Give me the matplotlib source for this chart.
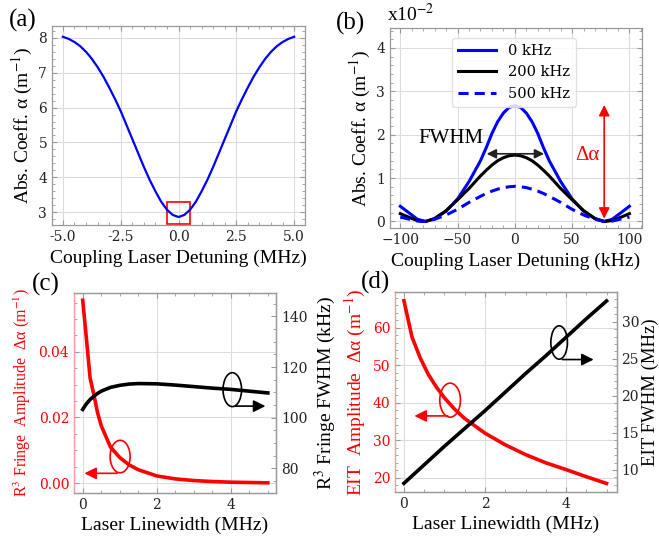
import matplotlib
matplotlib.use('Agg')
import matplotlib.pyplot as plt
from matplotlib.patches import Ellipse, Rectangle
from matplotlib.ticker import AutoMinorLocator, MultipleLocator, FormatStrFormatter

plt.rcParams['font.family'] = 'DejaVu Serif'
plt.rcParams['mathtext.fontset'] = 'stix'

# (a) broad absorption with the small EIT dip
det_mhz = [-5, -4.75, -4.5, -4.25, -4, -3.75, -3.5, -3.25, -3, -2.75, -2.5, -2.25, -2,
           -1.75, -1.5, -1.25, -1, -0.75, -0.5, -0.25, 0,
           0.25, 0.5, 0.75, 1, 1.25, 1.5, 1.75, 2, 2.25, 2.5, 2.75, 3, 3.25, 3.5,
           3.75, 4, 4.25, 4.5, 4.75, 5]
abs_a = [8.03, 7.97, 7.88, 7.76, 7.60, 7.40, 7.16, 6.89, 6.58, 6.25, 5.90, 5.50, 5.10,
         4.70, 4.30, 3.93, 3.60, 3.30, 3.07, 2.92, 2.86,
         2.92, 3.07, 3.30, 3.60, 3.93, 4.30, 4.70, 5.10, 5.50, 5.90, 6.25, 6.58, 6.89, 7.16,
         7.40, 7.60, 7.76, 7.88, 7.97, 8.03]

# (b) R3 fringe for three laser linewidths (x10^-2)
det_khz = [-100, -90, -85, -78, -70, -60, -50, -40, -30, -25, -20, -15, -10, -5, 0,
           5, 10, 15, 20, 25, 30, 40, 50, 60, 70, 78, 85, 90, 100]
fringe_0 = [0.35, 0.15, 0.05, 0.0, 0.06, 0.24, 0.52, 0.92, 1.40, 1.70, 2.03, 2.30, 2.50, 2.63, 2.67,
            2.63, 2.50, 2.30, 2.03, 1.70, 1.40, 0.92, 0.52, 0.24, 0.06, 0.0, 0.05, 0.15, 0.35]
fringe_200 = [0.18, 0.07, 0.02, 0.0, 0.07, 0.25, 0.50, 0.76, 1.05, 1.18, 1.30, 1.40, 1.47, 1.515, 1.53,
              1.515, 1.47, 1.40, 1.30, 1.18, 1.05, 0.76, 0.50, 0.25, 0.07, 0.0, 0.02, 0.07, 0.18]
fringe_500 = [0.10, 0.04, 0.01, 0.0, 0.05, 0.15, 0.28, 0.44, 0.58, 0.645, 0.70, 0.745, 0.78, 0.80, 0.81,
              0.80, 0.78, 0.745, 0.70, 0.645, 0.58, 0.44, 0.28, 0.15, 0.05, 0.0, 0.01, 0.04, 0.10]
legend_labels = ['0 kHz', '200 kHz', '500 kHz']

# (c) R3 fringe amplitude / FWHM vs linewidth
lw_c = [0, 0.1, 0.2, 0.3, 0.4, 0.5, 0.75, 1, 1.25, 1.5, 2, 2.5, 3, 3.5, 4, 4.5, 5]
amp_c = [0.0557, 0.044, 0.032, 0.027, 0.0215, 0.0175, 0.011, 0.0078, 0.0056, 0.0041,
         0.0022, 0.0013, 0.0008, 0.0005, 0.0003, 0.0002, 0.0001]
fwhm_c = [103.3, 105.5, 107.2, 108.5, 109.6, 110.5, 112.0, 112.8, 113.3, 113.5,
          113.4, 112.9, 112.3, 111.7, 111.2, 110.5, 109.8]

# (d) EIT amplitude / FWHM vs linewidth
lw_d = [0, 0.2, 0.4, 0.6, 0.8, 1, 1.25, 1.5, 2, 2.5, 3, 3.5, 4, 4.5, 5]
amp_d = [67.2, 57.5, 52.0, 47.6, 44.2, 41.3, 38.3, 35.8, 31.9, 28.8, 26.2, 24.0, 22.2, 20.3, 18.5]
fwhm_d = [8.2, 9.2, 10.2, 11.2, 12.2, 13.2, 14.4, 15.6, 18.0, 20.5, 23.0, 25.4, 27.9, 30.4, 32.8]

LF = 'Liberation Serif'
SPINE = '#9a9a9a'
RED = '#ff0000'


def style(ax, top=True, right=True):
    for s in ax.spines.values():
        s.set_color(SPINE)
        s.set_linewidth(0.9)
    ax.tick_params(which='both', direction='in', color=SPINE, labelsize=10,
                   labelcolor='#222222', top=top, right=right)
    ax.tick_params(which='major', length=3.5)
    ax.tick_params(which='minor', length=2)
    ax.grid(True, color='#dcdcdc', lw=0.8)
    ax.set_axisbelow(True)


fig = plt.figure(figsize=(6.59, 5.41), dpi=100)

# ---- (a)
ax = fig.add_axes([0.0789, 0.584, 0.384, 0.368])
ax.plot(det_mhz, abs_a, color='#0000ff', lw=1.6)
ax.add_patch(Rectangle((-0.5, 2.67), 1.0, 0.61, fill=False, ec=RED, lw=1.2))
ax.set_xlim(-5.47, 5.47)
ax.set_ylim(2.63, 8.34)
ax.xaxis.set_major_locator(MultipleLocator(2.5))
ax.xaxis.set_minor_locator(AutoMinorLocator(5))
ax.yaxis.set_minor_locator(AutoMinorLocator(5))
ax.xaxis.set_major_formatter(FormatStrFormatter('%.1f'))
style(ax)
ax.set_xlabel('Coupling Laser Detuning (MHz)', fontfamily=LF, fontsize=14, labelpad=4)
ax.set_ylabel('Abs. Coeff. α (m$^{-1}$)', fontfamily=LF, fontsize=14, labelpad=2)

# ---- (b)
ax = fig.add_axes([0.5918, 0.5786, 0.3824, 0.3697])
ax.plot(det_khz, fringe_0, color='#0000ff', lw=2.2, label=legend_labels[0])
ax.plot(det_khz, fringe_200, color='black', lw=2.2, label=legend_labels[1])
ax.plot(det_khz, fringe_500, color='#0000ff', lw=2.2, ls=(0, (3.3, 2)), label=legend_labels[2])
ax.set_xlim(-109, 111)
ax.set_ylim(-0.15, 4.46)
ax.xaxis.set_major_locator(MultipleLocator(50))
ax.xaxis.set_minor_locator(AutoMinorLocator(5))
ax.yaxis.set_major_locator(MultipleLocator(1))
ax.yaxis.set_minor_locator(AutoMinorLocator(5))
style(ax)
ax.set_xlabel('Coupling Laser Detuning (kHz)', fontfamily=LF, fontsize=14, labelpad=4)
ax.set_ylabel('Abs. Coeff. α (m$^{-1}$)', fontfamily=LF, fontsize=14, labelpad=2)
leg = ax.legend(loc='upper center', bbox_to_anchor=(0.492, 0.985), fontsize=10.5,
                handlelength=2.6, framealpha=0.85, edgecolor='#dddddd')
ax.annotate('', xy=(-27, 1.56), xytext=(28, 1.56),
            arrowprops=dict(arrowstyle='<|-|>', color='#222222', lw=1.2, mutation_scale=14))
ax.text(-56, 1.92, 'FWHM', fontfamily=LF, fontsize=15, ha='center', va='center')
ax.annotate('', xy=(78, 0.0), xytext=(78, 2.75),
            arrowprops=dict(arrowstyle='<|-|>', color=RED, lw=1.2, mutation_scale=16))
ax.text(63, 1.51, 'Δα', fontfamily=LF, fontsize=15, color=RED, ha='center', va='center')

# ---- (c)
ax = fig.add_axes([0.1123, 0.0893, 0.3065, 0.3697])
ax2 = ax.twinx()
ax.plot(lw_c, amp_c, color=RED, lw=2.6)
ax2.plot(lw_c, fwhm_c, color='black', lw=2.6)
ax.set_xlim(-0.235, 5.22)
ax.set_ylim(-0.0029, 0.058)
ax2.set_ylim(70.4, 149.4)
ax.xaxis.set_major_locator(MultipleLocator(2))
ax.xaxis.set_minor_locator(AutoMinorLocator(4))
ax.yaxis.set_major_locator(MultipleLocator(0.02))
ax.yaxis.set_minor_locator(AutoMinorLocator(4))
ax.yaxis.set_major_formatter(FormatStrFormatter('%.2f'))
ax2.yaxis.set_major_locator(MultipleLocator(20))
ax2.yaxis.set_minor_locator(AutoMinorLocator(4))
style(ax, right=False)
style(ax2, top=False)
ax2.grid(False)
ax.tick_params(axis='y', labelcolor=RED)
ax.spines['left'].set_color('#f4a0a0')
ax2.spines['left'].set_color('#f4a0a0')
ax.set_xlabel('Laser Linewidth (MHz)', fontfamily=LF, fontsize=14, labelpad=4)
ax.set_ylabel('R$^3$ Fringe  Amplitude  Δα (m$^{-1}$)', fontfamily=LF, fontsize=11.5,
              color=RED, labelpad=4)
ax2.set_ylabel('R$^3$ Fringe FWHM (kHz)', fontfamily=LF, fontsize=14, labelpad=4)
ax.add_patch(Ellipse((1.01, 0.0081), 0.54, 0.0099, fill=False, ec=RED, lw=1.2))
ax.annotate('', xy=(-0.03, 0.003), xytext=(1.0, 0.003),
            arrowprops=dict(arrowstyle='-|>', color=RED, lw=1.2, mutation_scale=18))
ax2.add_patch(Ellipse((4.04, 111.1), 0.5, 13.4, fill=False, ec='black', lw=1.2))
ax2.annotate('', xy=(5.01, 104.6), xytext=(4.05, 104.6),
             arrowprops=dict(arrowstyle='-|>', color='black', lw=1.2, mutation_scale=18))

# ---- (d)
ax = fig.add_axes([0.5994, 0.0911, 0.3364, 0.3697])
ax2 = ax.twinx()
ax.plot(lw_d, amp_d, color=RED, lw=2.6)
ax2.plot(lw_d, fwhm_d, color='black', lw=2.6)
ax.set_xlim(-0.22, 5.25)
ax.set_ylim(16.3, 69.6)
ax2.set_ylim(7.07, 34.05)
ax.xaxis.set_major_locator(MultipleLocator(2))
ax.xaxis.set_minor_locator(AutoMinorLocator(4))
ax.yaxis.set_major_locator(MultipleLocator(10))
ax.yaxis.set_minor_locator(AutoMinorLocator(5))
ax2.yaxis.set_major_locator(MultipleLocator(5))
ax2.yaxis.set_minor_locator(AutoMinorLocator(5))
style(ax, right=False)
style(ax2, top=False)
ax2.grid(False)
ax.tick_params(axis='y', labelcolor=RED)
ax.spines['left'].set_color('#f4a0a0')
ax2.spines['left'].set_color('#f4a0a0')
ax.set_xlabel('Laser Linewidth (MHz)', fontfamily=LF, fontsize=14, labelpad=4)
ax.set_ylabel('EIT  Amplitude  Δα (m$^{-1}$)', fontfamily=LF, fontsize=14,
              color=RED, labelpad=3)
ax2.set_ylabel('EIT FWHM (MHz)', fontfamily=LF, fontsize=13.5, labelpad=2)
ax.add_patch(Ellipse((1.14, 40.7), 0.51, 9.07, fill=False, ec=RED, lw=1.2))
ax.annotate('', xy=(0.19, 36.5), xytext=(1.15, 36.5),
            arrowprops=dict(arrowstyle='-|>', color=RED, lw=1.2, mutation_scale=18))
ax2.add_patch(Ellipse((3.83, 27.2), 0.41, 4.5, fill=False, ec='black', lw=1.2))
ax2.annotate('', xy=(4.75, 24.9), xytext=(3.84, 24.9),
             arrowprops=dict(arrowstyle='-|>', color='black', lw=1.2, mutation_scale=18))

# panel letters and the scale note
fig.text(9 / 659, 1 - 20 / 541, '(a)', fontfamily=LF, fontsize=18, va='center')
fig.text(336 / 659, 1 - 23 / 541, '(b)', fontfamily=LF, fontsize=18, va='center')
fig.text(387 / 659, 1 - 21 / 541, 'x10$^{-2}$', fontfamily=LF, fontsize=14, va='baseline')
fig.text(32 / 659, 1 - 284 / 541, '(c)', fontfamily=LF, fontsize=18, va='center')
fig.text(361 / 659, 1 - 282 / 541, '(d)', fontfamily=LF, fontsize=18, va='center')

fig.savefig('out.png', dpi=100)
